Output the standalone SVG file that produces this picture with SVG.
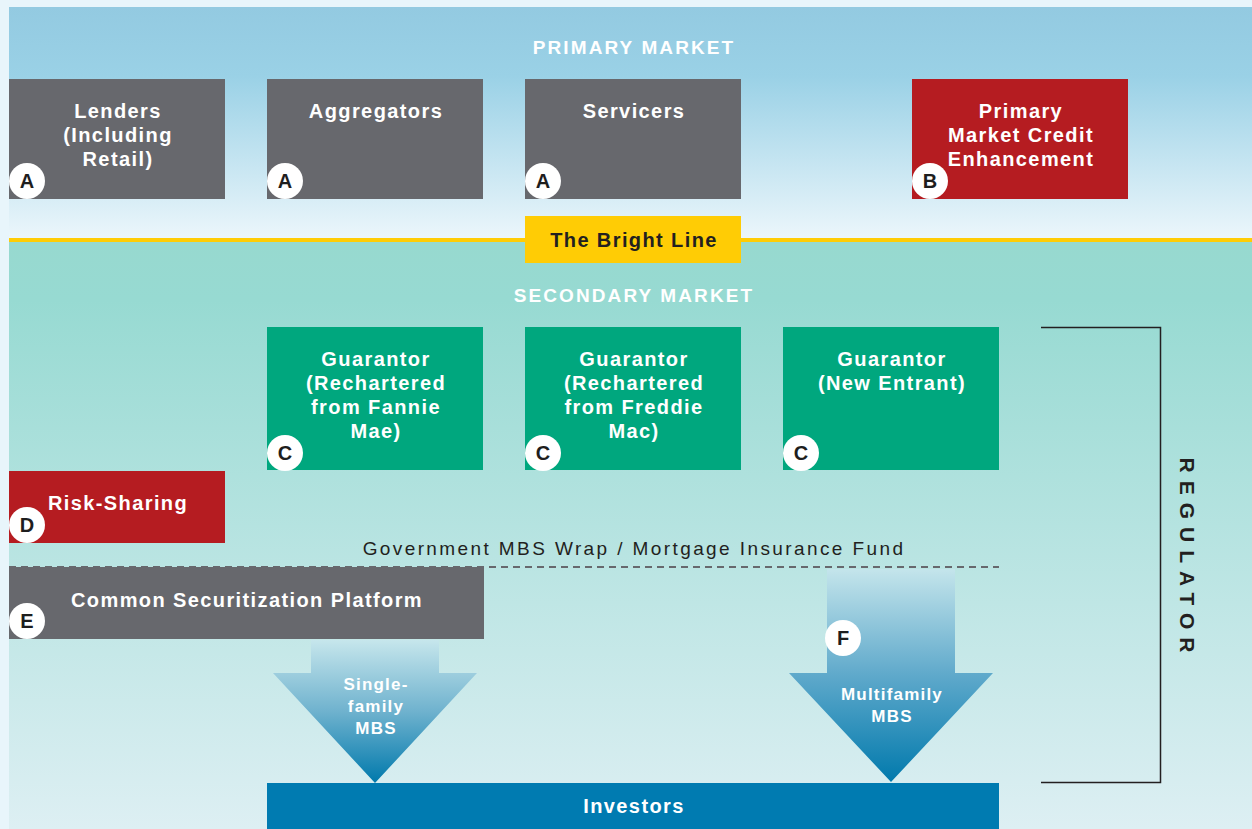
<svg xmlns="http://www.w3.org/2000/svg" width="1252" height="829" viewBox="0 0 1252 829">
<defs>
<linearGradient id="gPrim" x1="0" y1="0" x2="0" y2="1">
<stop offset="0" stop-color="#93CAE1"/><stop offset="0.3" stop-color="#9AD1E6"/><stop offset="1" stop-color="#EBF6FB"/>
</linearGradient>
<linearGradient id="gSec" x1="0" y1="0" x2="0" y2="1">
<stop offset="0" stop-color="#97D9CF"/><stop offset="0.1" stop-color="#97DAD2"/><stop offset="1" stop-color="#DDEFF3"/>
</linearGradient>
<linearGradient id="gArrowS" gradientUnits="userSpaceOnUse" x1="0" y1="640" x2="0" y2="783">
<stop offset="0" stop-color="#C6E6EC"/><stop offset="0.5" stop-color="#6FB2CE"/><stop offset="1" stop-color="#0079AC"/>
</linearGradient>
<linearGradient id="gArrowM" gradientUnits="userSpaceOnUse" x1="0" y1="567" x2="0" y2="783">
<stop offset="0" stop-color="#C6E6EC"/><stop offset="0.5" stop-color="#5FA9CB"/><stop offset="1" stop-color="#0079AC"/>
</linearGradient>
<style>
.lbl{font-family:"Liberation Sans",Arial,sans-serif;font-weight:700;font-size:20px;letter-spacing:1.4px;fill:#FFFFFF;text-anchor:middle}
.hdr{font-family:"Liberation Sans",Arial,sans-serif;font-weight:700;font-size:19px;fill:#FFFFFF;text-anchor:middle;letter-spacing:2.1px}
.grey{fill:#67686D}
.red{fill:#B51C21}
.green{fill:#00A77E}
.badge circle{fill:#FFFFFF}
.badge text{font-family:"Liberation Sans",Arial,sans-serif;font-weight:700;font-size:20px;fill:#1E1E1E;text-anchor:middle}
.albl{font-family:"Liberation Sans",Arial,sans-serif;font-weight:700;font-size:17px;letter-spacing:1.2px;fill:#FFFFFF;text-anchor:middle}
</style>
</defs>
<rect x="0" y="0" width="1252" height="829" fill="#E8F5FB"/>
<rect x="9" y="7" width="1243" height="231" fill="url(#gPrim)"/>
<rect x="9" y="241" width="1243" height="588" fill="url(#gSec)"/>
<rect x="9" y="238" width="1243" height="4" fill="#FFCC05"/>
<text class="hdr" x="634" y="54">PRIMARY MARKET</text>
<text class="hdr" x="634" y="302">SECONDARY MARKET</text>

<g id="lenders"><rect class="grey" x="9" y="79" width="216" height="120"/>
<text class="lbl" x="118" y="118">Lenders</text><text class="lbl" x="118" y="142">(Including</text><text class="lbl" x="118" y="166">Retail)</text>
<g class="badge"><circle cx="27" cy="181" r="18"/><text x="27" y="188">A</text></g></g>

<g id="aggregators"><rect class="grey" x="267" y="79" width="216" height="120"/>
<text class="lbl" x="376" y="118">Aggregators</text>
<g class="badge"><circle cx="285" cy="181" r="18"/><text x="285" y="188">A</text></g></g>

<g id="servicers"><rect class="grey" x="525" y="79" width="216" height="120"/>
<text class="lbl" x="634" y="118">Servicers</text>
<g class="badge"><circle cx="543" cy="181" r="18"/><text x="543" y="188">A</text></g></g>

<g id="pmce"><rect class="red" x="912" y="79" width="216" height="120"/>
<text class="lbl" x="1021" y="118">Primary</text><text class="lbl" x="1021" y="142">Market Credit</text><text class="lbl" x="1021" y="166">Enhancement</text>
<g class="badge"><circle cx="930" cy="181" r="18"/><text x="930" y="188">B</text></g></g>

<g id="brightline"><rect x="525" y="216" width="216" height="47" fill="#FFCC05"/>
<text class="lbl" x="634" y="247" style="fill:#231F20">The Bright Line</text></g>

<g id="guarantorFannie"><rect class="green" x="267" y="327" width="216" height="143"/>
<text class="lbl" x="376" y="366">Guarantor</text><text class="lbl" x="376" y="390">(Rechartered</text><text class="lbl" x="376" y="414">from Fannie</text><text class="lbl" x="376" y="438">Mae)</text>
<g class="badge"><circle cx="285" cy="453" r="18"/><text x="285" y="460">C</text></g></g>

<g id="guarantorFreddie"><rect class="green" x="525" y="327" width="216" height="143"/>
<text class="lbl" x="634" y="366">Guarantor</text><text class="lbl" x="634" y="390">(Rechartered</text><text class="lbl" x="634" y="414">from Freddie</text><text class="lbl" x="634" y="438">Mac)</text>
<g class="badge"><circle cx="543" cy="453" r="18"/><text x="543" y="460">C</text></g></g>

<g id="guarantorNew"><rect class="green" x="783" y="327" width="216" height="143"/>
<text class="lbl" x="892" y="366">Guarantor</text><text class="lbl" x="892" y="390">(New Entrant)</text>
<g class="badge"><circle cx="801" cy="453" r="18"/><text x="801" y="460">C</text></g></g>

<g id="riskSharing"><rect class="red" x="9" y="471" width="216" height="72"/>
<text class="lbl" x="118" y="510">Risk-Sharing</text>
<g class="badge"><circle cx="27" cy="525" r="18"/><text x="27" y="532">D</text></g></g>

<g id="wrap">
<text x="634" y="555" style="font-family:'Liberation Sans',Arial,sans-serif;font-size:19px;letter-spacing:2.4px;fill:#231F20;text-anchor:middle">Government MBS Wrap / Mortgage Insurance Fund</text>
<line x1="9" y1="567" x2="999" y2="567" stroke="#67686D" stroke-width="2" stroke-dasharray="7,5"/></g>

<g id="csp"><rect class="grey" x="9" y="567" width="475" height="72"/>
<text class="lbl" x="247" y="607">Common Securitization Platform</text>
<g class="badge"><circle cx="27" cy="621" r="18"/><text x="27" y="628">E</text></g></g>

<g id="connectors">
<polygon id="arrowSingle" points="311,640 439,640 439,673 477,673 375,783 273,673 311,673" fill="url(#gArrowS)"/>
<polygon id="arrowMulti" points="827,569 955,569 955,673 993,673 891,782 789,673 827,673" fill="url(#gArrowM)"/>
<path id="regulatorBracket" d="M1041,327.5 H1160.5 V782.5 H1041" fill="none" stroke="#231F20" stroke-width="1.5"/>
</g>
<text class="albl" x="376" y="690">Single-</text><text class="albl" x="376" y="712">family</text><text class="albl" x="376" y="734">MBS</text>
<text class="albl" x="892" y="700">Multifamily</text><text class="albl" x="892" y="722">MBS</text>
<g class="badge"><circle cx="843" cy="638" r="18"/><text x="843" y="645">F</text></g>

<g id="regulator"><text transform="translate(1180,559) rotate(90)" x="0" y="0" style="font-family:'Liberation Sans',Arial,sans-serif;font-weight:700;font-size:21px;fill:#231F20;text-anchor:middle;letter-spacing:8px">REGULATOR</text></g>

<g id="investors"><rect x="267" y="783" width="732" height="46" fill="#007BB1"/>
<text class="lbl" x="634" y="813">Investors</text></g>
</svg>
